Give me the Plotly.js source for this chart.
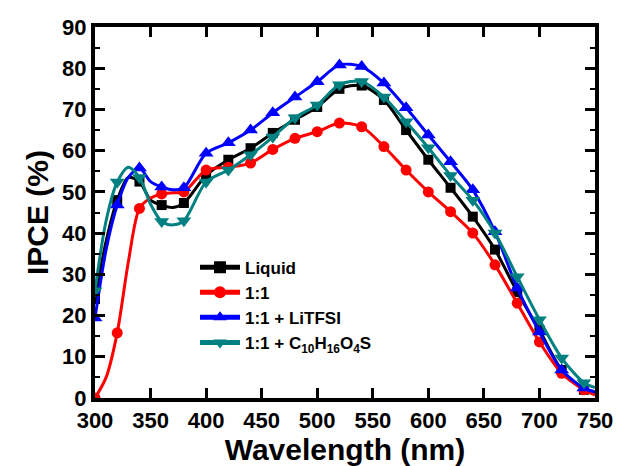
<!DOCTYPE html>
<html>
<head>
<meta charset="utf-8">
<script src="https://cdn.plot.ly/plotly-3.0.1.min.js"></script>
<style>html,body{margin:0;padding:0;background:#fff;}#chart{width:617px;height:466px;}</style>
</head>
<body>
<div id="chart"></div>
<script>
// Wavelength grid (nm)
const wavelength = [300,310,320,330,340,350,360,370,380,400,420,440,460,480,500,520,540,560,580,600,620,640,660,680,700,720,740,750];

// IPCE values (%)
const liquid   = [24,38,48,53.5,52.5,48,46.8,46.2,47.3,54,57.8,60.6,64.3,67.5,70.6,75,75.8,72.3,65,57.8,51,44,36,25.7,16.5,6.8,2,1];
const ratio11  = [0,5,15.8,33,46,48.5,49.5,49.8,50,55.3,56,57,60.3,63,64.6,66.7,65.8,61,55.3,50,45.2,40,32.3,23,13.6,6,2,0.7];
const litfsi   = [19.4,36,46.8,53.5,55.8,52.5,51.2,50.5,51,59.4,61.9,65,69.2,73,76.7,80.8,80.4,76.4,70.4,63.8,57.3,50.5,40.3,26.7,16,6.8,2.4,1.5];
const additive = [26,43,52.4,56,53.5,47,42.8,42,43,52.4,55.3,59,63.3,68,71.1,76,76.8,73,67,60.7,54,48,40,29.4,19,9.7,3.7,2.5];

const seriesNames = ['Liquid','1:1','1:1 + LiTFSI','1:1 + C<sub>10</sub>H<sub>16</sub>O<sub>4</sub>S'];
const xTicks = [300,350,400,450,500,550,600,650,700,750];
const yTicks = [0,10,20,30,40,50,60,70,80,90];

const colors = ['#000000','#ff0000','#0000ff','#008080'];
const symbols = ['square','circle','triangle-up','triangle-down'];
const baseSizes = [10, 11, 13, 13];
const data = [liquid, ratio11, litfsi, additive];

const traces = data.map((ys, i) => ({
  x: wavelength, y: ys, name: seriesNames[i],
  type: 'scatter', mode: 'lines+markers',
  line: {color: colors[i], width: 3, shape: 'spline', smoothing: 0.8},
  // markers every 20 nm only
  marker: {color: colors[i], symbol: symbols[i], opacity: 1,
    size: wavelength.map(w => (w % 20 === 0 && w !== 750) ? baseSizes[i] : 0), line: {width: 0}}
}));

const fontFam = '"Liberation Sans", Arial, sans-serif';
const layout = {
  width: 617, height: 466,
  margin: {l: 95, r: 22, t: 27, b: 68},
  paper_bgcolor: '#fff', plot_bgcolor: '#fff',
  showlegend: true,
  legend: {x: 0.2, y: 0.4, xanchor: 'left', yanchor: 'top', bgcolor: 'rgba(0,0,0,0)',
    itemsizing: 'constant', itemwidth: 40,
    font: {family: fontFam, size: 17, color: '#000', weight: 'bold'}, tracegroupgap: 0},
  xaxis: {
    range: [300, 750], tickvals: xTicks, ticktext: xTicks.map(String),
    showgrid: false, zeroline: false, showline: true, linewidth: 4, linecolor: '#000',
    mirror: 'ticks', ticks: 'inside', ticklen: 10, tickwidth: 3, tickcolor: '#000',
    tickfont: {family: fontFam, size: 22, color: '#000', weight: 'bold'},
    title: {text: 'Wavelength (nm)', font: {family: fontFam, size: 30, color: '#000', weight: 'bold'}, standoff: 2}
  },
  yaxis: {
    range: [0, 90], tickvals: yTicks, ticktext: yTicks.map(String),
    showgrid: false, zeroline: false, showline: true, linewidth: 4, linecolor: '#000',
    mirror: 'ticks', ticks: 'inside', ticklen: 10, tickwidth: 3, tickcolor: '#000',
    minor: {dtick: 5, ticks: 'inside', ticklen: 5, tickwidth: 2, tickcolor: '#000'},
    tickfont: {family: fontFam, size: 22, color: '#000', weight: 'bold'},
    title: {text: 'IPCE (%)', font: {family: fontFam, size: 30, color: '#000', weight: 'bold'}, standoff: 6}
  }
};

Plotly.newPlot('chart', traces, layout, {displayModeBar: false, staticPlot: true});
</script>
</body>
</html>
